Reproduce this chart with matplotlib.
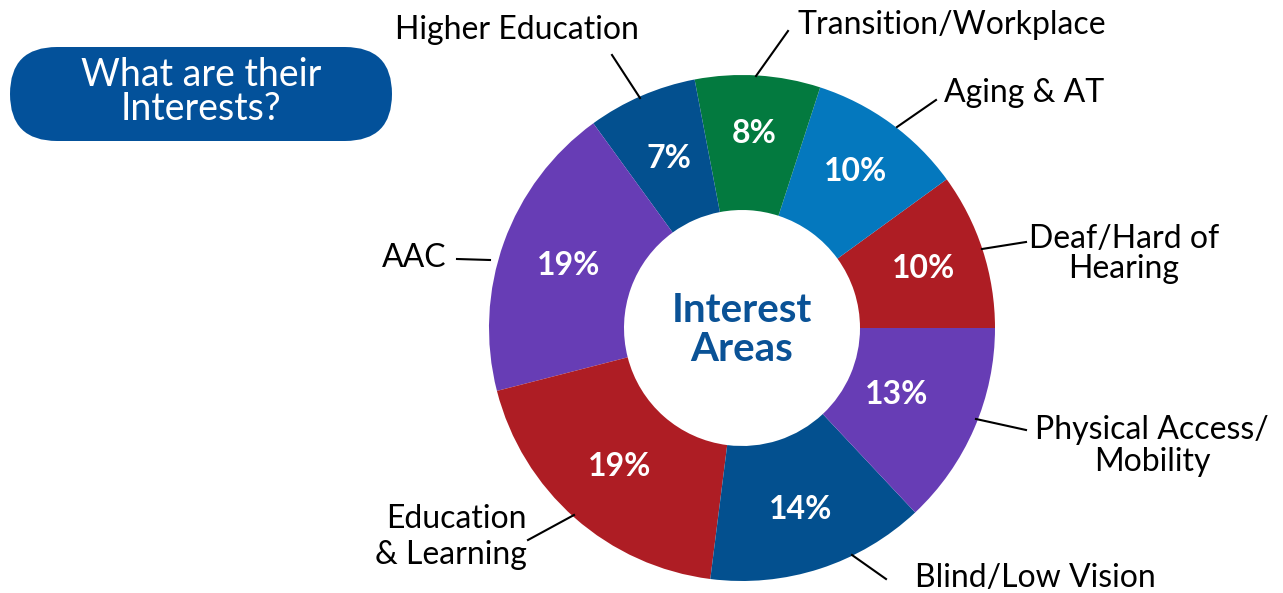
import numpy as np
import matplotlib
matplotlib.use("Agg")
import matplotlib.pyplot as plt
from matplotlib.patches import FancyBboxPatch

# Data (counter-clockwise starting at 3 o'clock)
area_names = ["Deaf/Hard of\nHearing", "Aging & AT", "Transition/Workplace", "Higher Education",
              "AAC", "Education\n& Learning", "Blind/Low Vision", "Physical Access/\nMobility"]
area_shares = [10, 10, 8, 7, 19, 19, 14, 13]
slice_colors = ["#ae1d24", "#0478be", "#037a3f", "#03508f",
                "#673db5", "#ae1d24", "#03508f", "#673db5"]

# Label placement in pixel coords (x, y from top): text position, leader start, leader end, alignment, spacing
label_specs = [
    ((1124, 254), (982, 249), (1026, 242), "center", 1.0),
    ((944, 93), (897, 127), (936, 100), "left", 1.0),
    ((797, 25), (756, 76), (788, 31), "left", 1.0),
    ((517, 30), (640, 98), (612, 55), "center", 1.0),
    ((447, 258), (490, 260), (457, 259), "right", 1.0),
    ((527, 537), (574, 515), (528, 540), "right", 1.25),
    ((915, 578), (852, 555), (886, 579), "left", 1.0),
    ((1152, 446), (976, 419), (1026, 430), "center", 1.05),
]
# distance of the percentage text from the centre, as a fraction of the outer radius
pct_radius = [0.755, 0.765, 0.77, 0.73, 0.73, 0.73, 0.755, 0.665]

W, H = 1283, 593
CENTER = (742, H - 328)
R_OUT = 253
R_IN = 118
FONT = "Lato"


def px(x, y):
    # image pixel (top-left origin) -> axes data coords
    return (x, H - y)


fig = plt.figure(figsize=(W / 100, H / 100), dpi=100)
ax = fig.add_axes([0, 0, 1, 1])

wedges, texts, autotexts = ax.pie(area_shares, colors=slice_colors, startangle=0, counterclock=True,
                                  center=CENTER, radius=R_OUT, autopct="%d%%", pctdistance=0.76,
                                  wedgeprops=dict(width=R_OUT - R_IN, linewidth=0),
                                  textprops=dict(color="white", fontsize=23, fontweight="bold",
                                                 family=FONT))
# nudge each percentage along its slice bisector
for w, t, frac in zip(wedges, autotexts, pct_radius):
    mid = np.deg2rad((w.theta1 + w.theta2) / 2)
    t.set_position((CENTER[0] + frac * R_OUT * np.cos(mid), CENTER[1] + frac * R_OUT * np.sin(mid)))

ax.set_xlim(0, W)
ax.set_ylim(0, H)
ax.set_aspect("equal")
ax.axis("off")

# Center text
ax.text(CENTER[0], CENTER[1] - 2, "Interest\nAreas", ha="center", va="center", fontsize=29,
        fontweight="bold", color="#0a5296", family=FONT, linespacing=1.05)

# Outer labels with leader lines
for name, (txt_pos, p0, p1, align, spacing) in zip(area_names, label_specs):
    a = px(*p0)
    b = px(*p1)
    ax.plot([a[0], b[0]], [a[1], b[1]], color="black", linewidth=1.5)
    tx, ty = px(*txt_pos)
    ax.text(tx, ty, name, ha=align, va="center", fontsize=23, color="black", family=FONT,
            multialignment=align, linespacing=spacing)

# Title pill
box = FancyBboxPatch((10, H - 141), 382, 94, boxstyle="round,pad=0,rounding_size=47",
                     facecolor="#03519a", edgecolor="none")
ax.add_patch(box)
ax.text(201, H - 92, "What are their\nInterests?", ha="center", va="center", fontsize=27,
        color="white", family=FONT, linespacing=0.95)

fig.savefig("out.png", dpi=100)
